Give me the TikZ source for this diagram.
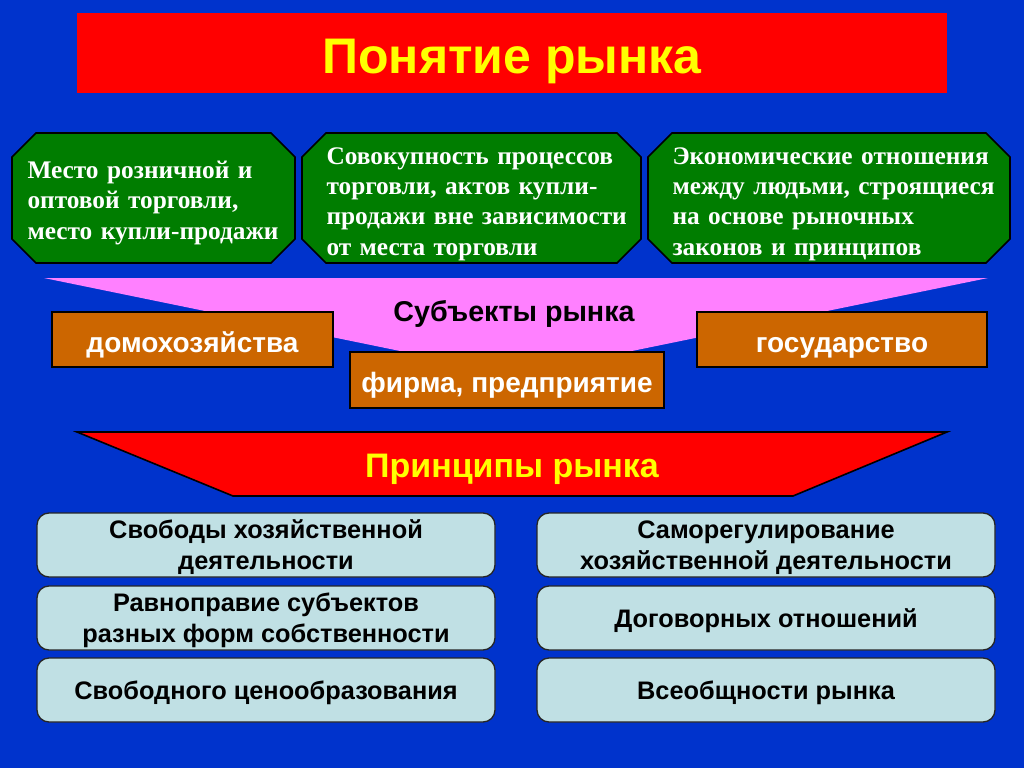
\documentclass[tikz,border=0pt]{standalone}
\usepackage{fontspec}
\setmainfont{Liberation Serif}
\setsansfont{Liberation Sans}
\usepackage{tikz}
\usetikzlibrary{positioning}
\tikzset{every picture/.style={line width=0.75pt}}

\definecolor{bgblue}{RGB}{0,51,204}
\definecolor{octgreen}{RGB}{0,125,0}
\definecolor{subjorange}{RGB}{204,102,0}
\definecolor{funnelpink}{RGB}{255,128,255}
\definecolor{princblue}{RGB}{192,224,228}
\definecolor{headyellow}{RGB}{255,255,0}

\tikzset{
  octtext/.style={anchor=west, inner sep=0pt, align=left, text width=262pt, text=white,
    font=\rmfamily\bfseries\fontsize{19}{22.75}\selectfont},
  subjbox/.style={draw=black, line width=1.2pt, fill=subjorange, inner sep=0pt,
    minimum height=41.5pt, text height=20pt, text depth=1pt, text=white,
    font=\sffamily\bfseries\fontsize{21}{25}\selectfont},
  princbox/.style={draw=black!85, line width=1pt, fill=princblue, rounded corners=9pt,
    inner sep=0pt, minimum width=343.5pt, minimum height=48pt, align=center, text depth=0pt,
    font=\sffamily\bfseries\fontsize{19}{23.25}\selectfont}
}

\begin{document}
\begin{tikzpicture}[x=0.75pt,y=0.75pt,yscale=-1,xscale=1]
		%uncomment if require: \path (0,768); %set diagram left start at 0, and has height of 768
		\useasboundingbox (0,0) rectangle (1024,768);
		
		%Shape: Rectangle [id:dp1001] 
		\fill [color=bgblue] (0,0) rectangle (1024,768) ;
		
		%Shape: Rectangle [id:dp1002] 
		\node [fill=red, inner sep=0pt, minimum width=652.5pt, minimum height=60pt] (titlebar) at (512,53) {};
		% Text Node
		\node [inner sep=0pt, text=headyellow, font=\sffamily\bfseries\fontsize{37.5}{44}\selectfont] (title) at (512,61) {Понятие рынка};
		
		%Shape: Octagon [id:dp1003] 
		\draw [fill=octgreen, line width=1.2pt] (36,133) -- (271,133) -- (295,157) -- (295,239) -- (271,263) -- (36,263) -- (12,239) -- (12,157) -- cycle ;
		%Shape: Octagon [id:dp1004] 
		\draw [fill=octgreen, line width=1.2pt] (326,133) -- (617,133) -- (641,157) -- (641,239) -- (617,263) -- (326,263) -- (302,239) -- (302,157) -- cycle ;
		%Shape: Octagon [id:dp1005] 
		\draw [fill=octgreen, line width=1.2pt] (672,133) -- (986,133) -- (1010,157) -- (1010,239) -- (986,263) -- (672,263) -- (648,239) -- (648,157) -- cycle ;
		
		% Text Node
		\node [octtext] (place) at (27,203) {Место розничной и\\оптовой торговли,\\место купли-продажи};
		% Text Node
		\node [octtext] (process) at (326,204) {Совокупность процессов\\торговли, актов купли-\\продажи вне зависимости\\от места торговли};
		% Text Node
		\node [octtext] (relation) at (672,204) {Экономические отношения\\между людьми, строящиеся\\на основе рыночных\\законов и принципов};
		
		%Shape: Trapezoid [id:dp1006] 
		\fill [color=funnelpink] (44,278) -- (988,278) -- (627,352) -- (405,352) -- cycle ;
		% Text Node
		\node [inner sep=0pt, font=\sffamily\bfseries\fontsize{21.5}{25}\selectfont] (subjects) at (514,314) {Субъекты рынка};
		
		%Shape: Rectangle [id:dp1007] 
		\node [subjbox, minimum width=210.75pt] (house) at (192.5,339.5) {домохозяйства};
		\node [subjbox, minimum width=217.5pt] (state) at (842,339.5) {государство};
		\node [subjbox, minimum width=235.5pt, minimum height=42pt] (firm) at (507,380) {фирма, предприятие};
		
		%Shape: Trapezoid [id:dp1008] 
		\draw [fill=red, line width=1.2pt] (77,432) -- (947,432) -- (793,496) -- (233,496) -- cycle ;
		% Text Node
		\node [inner sep=0pt, text=headyellow, font=\sffamily\bfseries\fontsize{25.5}{30}\selectfont] (principles) at (512,469) {Принципы рынка};
		
		%Shape: Rounded Rect [id:dp1009] 
		\node [princbox] (freedom) at (266,545) {Свободы хозяйственной\\деятельности};
		\node [princbox] (equality) at (266,618) {Равноправие субъектов\\разных форм собственности};
		\node [princbox] (pricing) at (266,690) {Свободного ценообразования};
		\node [princbox] (selfreg) at (766,545) {Саморегулирование\\хозяйственной деятельности};
		\node [princbox] (contract) at (766,618) {Договорных отношений};
		\node [princbox] (universal) at (766,690) {Всеобщности рынка};
		
\end{tikzpicture}
\end{document}
